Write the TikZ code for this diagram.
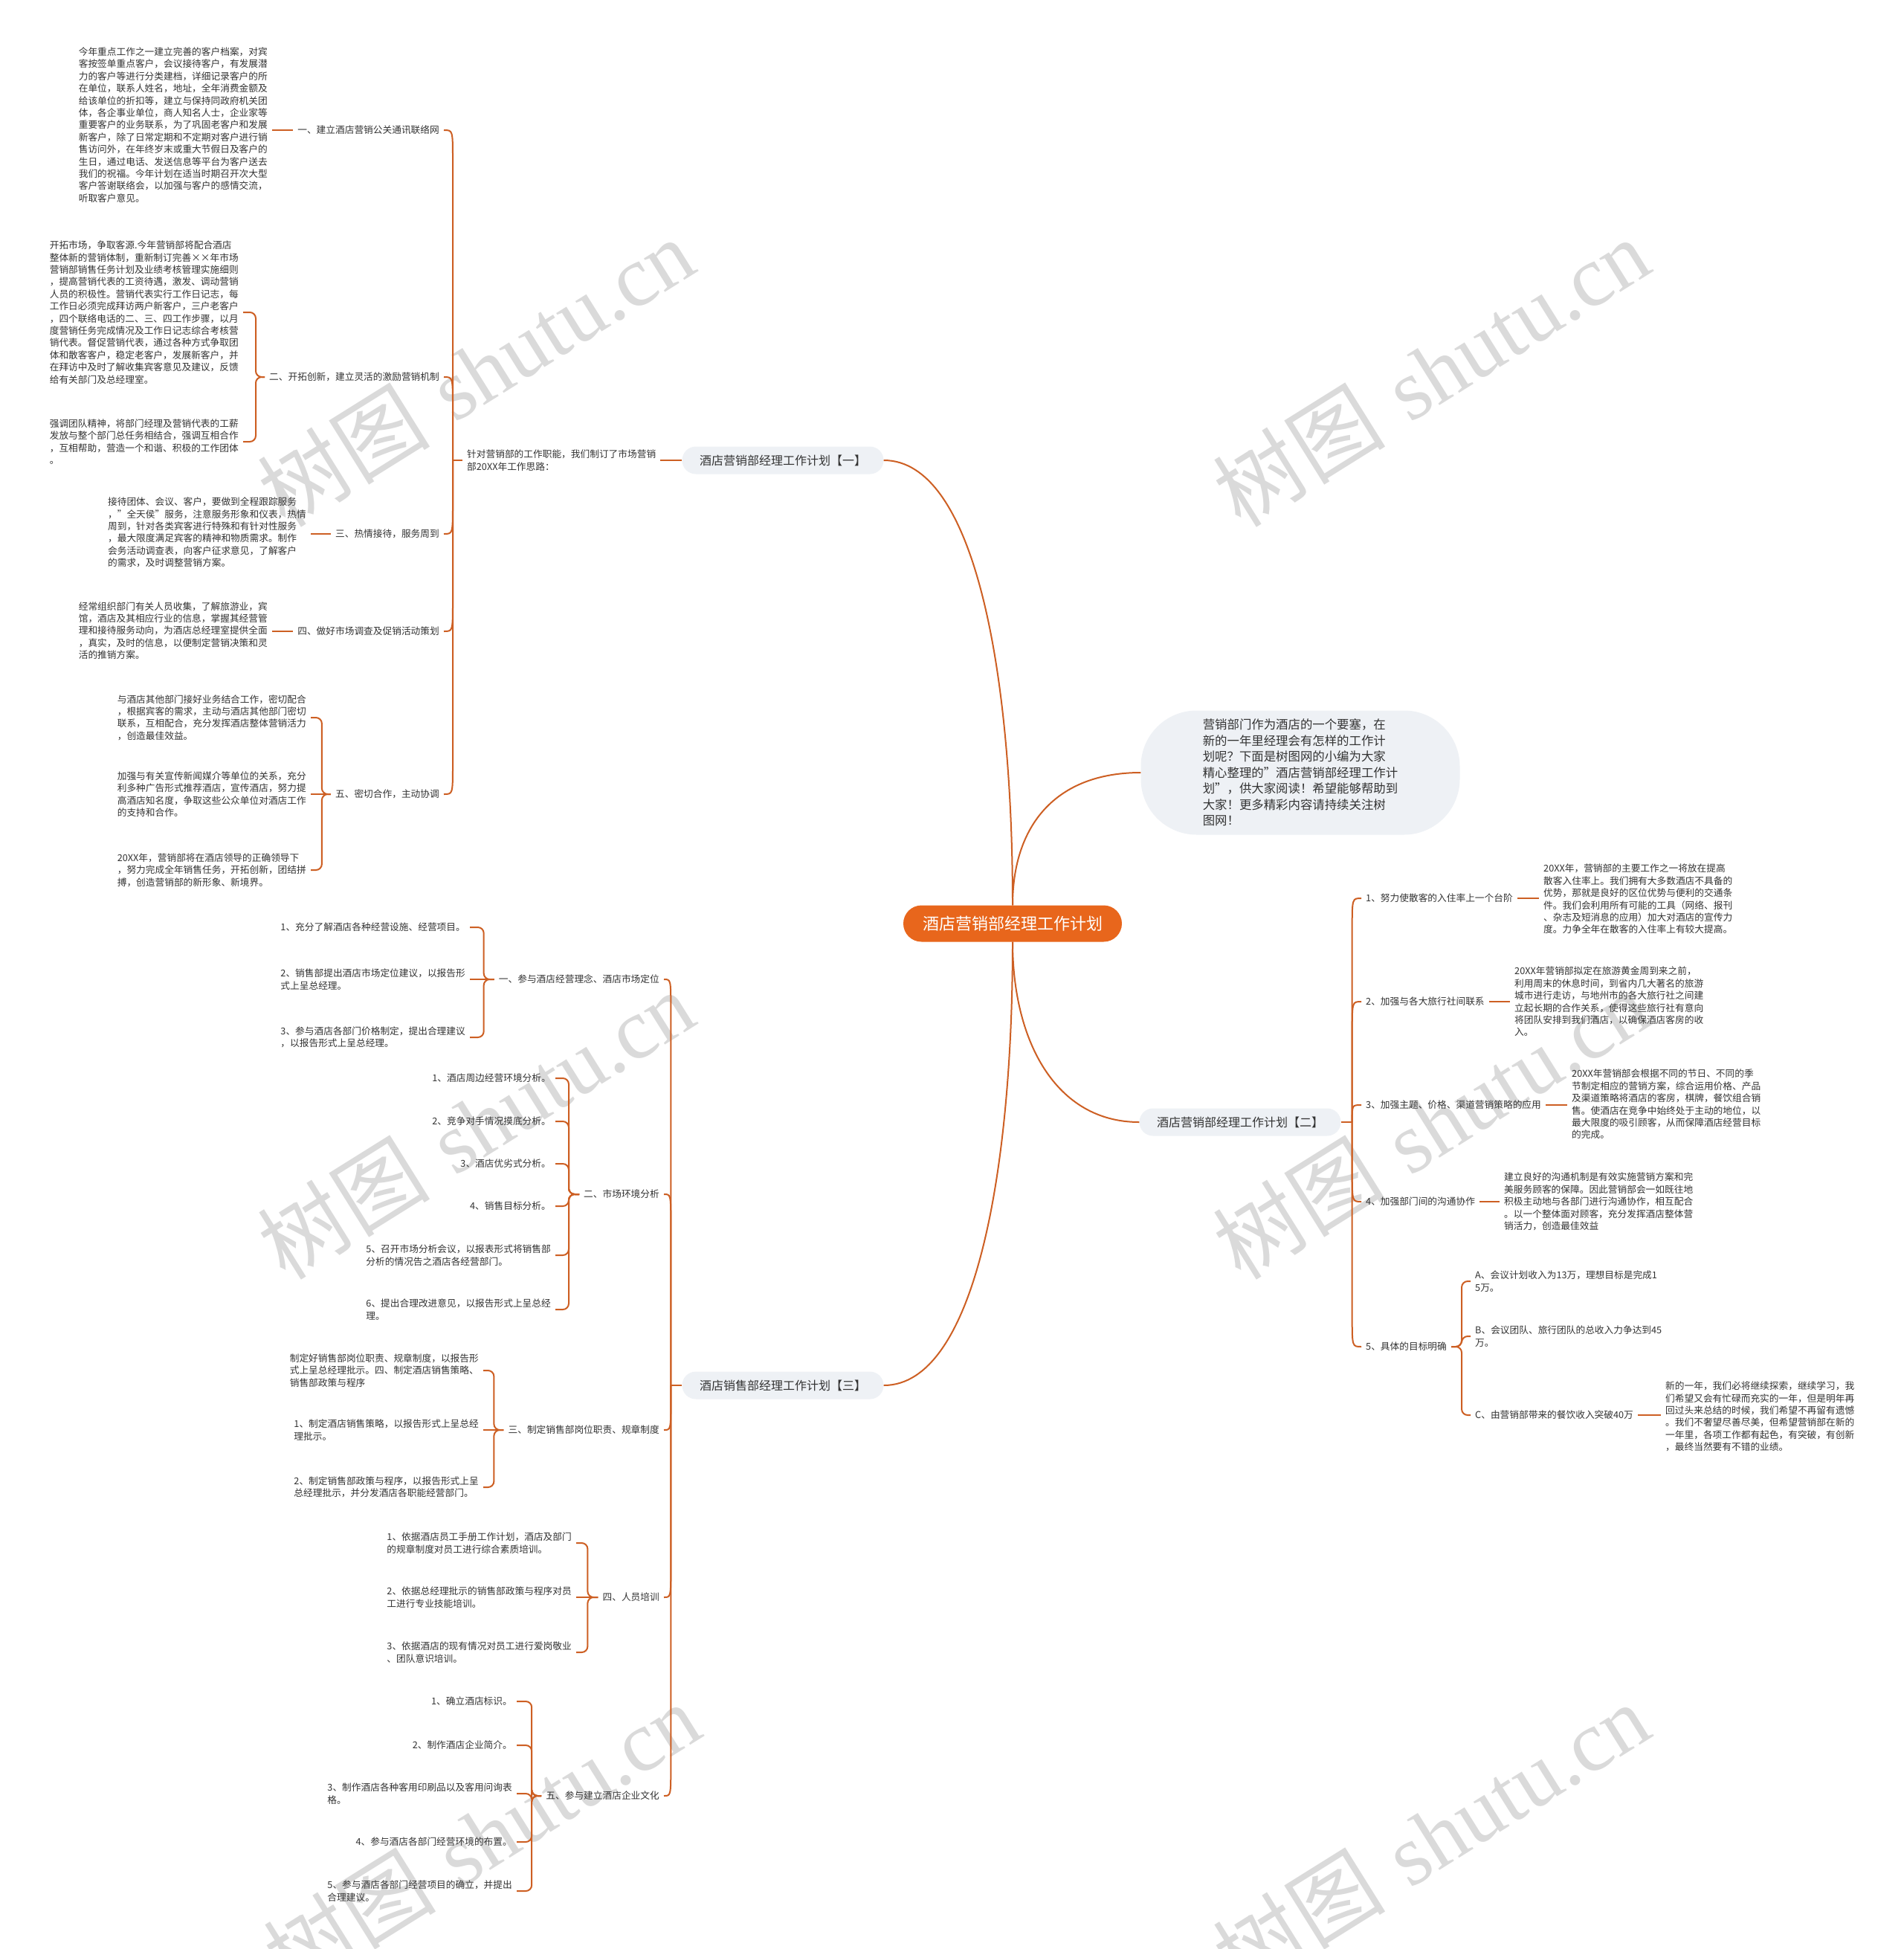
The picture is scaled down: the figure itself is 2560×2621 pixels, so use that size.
\documentclass[tikz,border=0pt]{standalone}
\usepackage{fontspec}
\setmainfont{Noto Sans CJK SC}
\newfontfamily\wmserif{Liberation Serif}
\usetikzlibrary{calc}
\definecolor{ln}{RGB}{205,95,35}
\definecolor{ctrfill}{RGB}{232,102,28}
\definecolor{boxfill}{RGB}{238,241,245}
\definecolor{txt}{RGB}{51,51,51}
\definecolor{wm}{RGB}{218,218,218}
\newcommand\hookL[3]{\draw[conn] (#1) -- ($(#1 |- #2.east)+(0,#3)$) .. controls (#1 |- #2.east) .. (#2.east);}
\newcommand\hookR[3]{\draw[conn] (#1) -- ($(#1 |- #2.west)+(0,#3)$) .. controls (#1 |- #2.west) .. (#2.west);}
\begin{document}
\begin{tikzpicture}[x=1pt,y=-1pt,
  conn/.style={draw=ln,line width=2pt},
  leaf/.style={align=left,inner xsep=6pt,inner ysep=2pt,text=txt,font=\fontsize{12.7}{16.4}\selectfont},
  lbl/.style={inner xsep=6pt,inner ysep=2pt,text=txt,font=\fontsize{12.7}{16.4}\selectfont},
  branch/.style={fill=boxfill,rounded corners=18.5pt,minimum width=271pt,minimum height=37pt,inner xsep=20pt,text=txt,font=\fontsize{16}{20}\selectfont},
  ctrbox/.style={fill=ctrfill,rounded corners=24.5pt,minimum width=294pt,minimum height=49pt,text=white,font=\fontsize{22}{26}\selectfont},
  introbox/.style={fill=boxfill,rounded corners=75pt,minimum width=429pt,minimum height=167pt,align=left,text=txt,font=\fontsize{16.4}{21.5}\selectfont},
  wmk/.style={rotate=32,text=wm,font=\fontsize{116}{116}\selectfont}
]
\fill[white] (0,0) rectangle (2560,2621);
\useasboundingbox (0,0) rectangle (2560,2621);

% watermarks
\foreach \wx/\wy in {640/500,1925/500,640/1512,1925/1512,648/2470,1925/2470}
  \node[wmk] at (\wx,\wy) {树图\hspace{0.3em}{\wmserif shutu.cn}};

% centre and branches
\node[ctrbox] (ctr) at (1362,1242) {酒店营销部经理工作计划};
\node[branch] (br1) at (1053,619) {酒店营销部经理工作计划【一】};
\node[branch] (br2) at (1668,1509) {酒店营销部经理工作计划【二】};
\node[branch] (br3) at (1053,1863) {酒店销售部经理工作计划【三】};
\node[introbox] (intro) at (1749,1039) {营销部门作为酒店的一个要塞，在\\新的一年里经理会有怎样的工作计\\划呢？下面是树图网的小编为大家\\精心整理的"酒店营销部经理工作计\\划"，供大家阅读！希望能够帮助到\\大家！更多精彩内容请持续关注树\\图网！};

\draw[conn] (ctr.north) .. controls (1362,900) and (1310,619) .. (br1.east);
\draw[conn] (ctr.north) .. controls (1362,1110) and (1420,1039) .. (intro.west);
\draw[conn] (ctr.south) .. controls (1362,1400) and (1420,1509) .. (br2.west);
\draw[conn] (ctr.south) .. controls (1362,1580) and (1310,1863) .. (br3.east);

% ---------- branch 1 ----------
\node[leaf,anchor=west] (n1) at (622,619) {针对营销部的工作职能，我们制订了市场营销\\部20XX年工作思路：};
\draw[conn] (br1.west) -- (n1.east);
\path (n1.west) ++(-13,0) coordinate (n1j);
\draw[conn] (n1.west) -- (n1j);

\node[lbl,anchor=east] (a1) at (597,175) {一、建立酒店营销公关通讯联络网};
\node[lbl,anchor=east] (a2) at (597,507) {二、开拓创新，建立灵活的激励营销机制};
\node[lbl,anchor=east] (a3) at (597,718) {三、热情接待，服务周到};
\node[lbl,anchor=east] (a4) at (597,849) {四、做好市场调查及促销活动策划};
\node[lbl,anchor=east] (a5) at (597,1068) {五、密切合作，主动协调};
\hookL{n1j}{a1}{40}
\hookL{n1j}{a2}{40}
\hookL{n1j}{a3}{-40}
\hookL{n1j}{a4}{-40}
\hookL{n1j}{a5}{-40}

\node[leaf,anchor=east] (a1l) at (366,168) {今年重点工作之一建立完善的客户档案，对宾\\客按签单重点客户，会议接待客户，有发展潜\\力的客户等进行分类建档，详细记录客户的所\\在单位，联系人姓名，地址，全年消费金额及\\给该单位的折扣等，建立与保持同政府机关团\\体，各企事业单位，商人知名人士，企业家等\\重要客户的业务联系，为了巩固老客户和发展\\新客户，除了日常定期和不定期对客户进行销\\售访问外，在年终岁末或重大节假日及客户的\\生日，通过电话、发送信息等平台为客户送去\\我们的祝福。今年计划在适当时期召开次大型\\客户答谢联络会，以加强与客户的感情交流，\\听取客户意见。};
\draw[conn] (a1.west) -- (a1.west -| a1l.east);

\node[leaf,anchor=east] (a2l1) at (327,420) {开拓市场，争取客源.今年营销部将配合酒店\\整体新的营销体制，重新制订完善××年市场\\营销部销售任务计划及业绩考核管理实施细则\\，提高营销代表的工资待遇，激发、调动营销\\人员的积极性。营销代表实行工作日记志，每\\工作日必须完成拜访两户新客户，三户老客户\\，四个联络电话的二、三、四工作步骤，以月\\度营销任务完成情况及工作日记志综合考核营\\销代表。督促营销代表，通过各种方式争取团\\体和散客客户，稳定老客户，发展新客户，并\\在拜访中及时了解收集宾客意见及建议，反馈\\给有关部门及总经理室。};
\node[leaf,anchor=east] (a2l2) at (327,594) {强调团队精神，将部门经理及营销代表的工薪\\发放与整个部门总任务相结合，强调互相合作\\，互相帮助，营造一个和谐、积极的工作团体\\。};
\draw[conn,rounded corners=8pt] (a2.west) -- ++(-12,0) |- (a2l1.east);
\draw[conn,rounded corners=8pt] (a2.west) -- ++(-12,0) |- (a2l2.east);

\node[leaf,anchor=east] (a3l) at (418,716) {接待团体、会议、客户，要做到全程跟踪服务\\，"全天侯"服务，注意服务形象和仪表，热情\\周到，针对各类宾客进行特殊和有针对性服务\\，最大限度满足宾客的精神和物质需求。制作\\会务活动调查表，向客户征求意见，了解客户\\的需求，及时调整营销方案。};
\draw[conn] (a3.west) -- (a3.west -| a3l.east);

\node[leaf,anchor=east] (a4l) at (366,848) {经常组织部门有关人员收集，了解旅游业，宾\\馆，酒店及其相应行业的信息，掌握其经营管\\理和接待服务动向，为酒店总经理室提供全面\\，真实，及时的信息，以便制定营销决策和灵\\活的推销方案。};
\draw[conn] (a4.west) -- (a4.west -| a4l.east);

\node[leaf,anchor=east] (a5l1) at (418,965) {与酒店其他部门接好业务结合工作，密切配合\\，根据宾客的需求，主动与酒店其他部门密切\\联系，互相配合，充分发挥酒店整体营销活力\\，创造最佳效益。};
\node[leaf,anchor=east] (a5l2) at (418,1068) {加强与有关宣传新闻媒介等单位的关系，充分\\利多种广告形式推荐酒店，宣传酒店，努力提\\高酒店知名度，争取这些公众单位对酒店工作\\的支持和合作。};
\node[leaf,anchor=east] (a5l3) at (418,1170) {20XX年，营销部将在酒店领导的正确领导下\\，努力完成全年销售任务，开拓创新，团结拼\\搏，创造营销部的新形象、新境界。};
\draw[conn,rounded corners=8pt] (a5.west) -- ++(-12,0) |- (a5l1.east);
\draw[conn] (a5.west) -- (a5l2.east);
\draw[conn,rounded corners=8pt] (a5.west) -- ++(-12,0) |- (a5l3.east);

% ---------- branch 3 ----------
\path (br3.west) ++(-15,0) coordinate (br3j);
\draw[conn] (br3.west) -- (br3j);
\node[lbl,anchor=east] (b1) at (893,1317) {一、参与酒店经营理念、酒店市场定位};
\node[lbl,anchor=east] (b2) at (893,1606) {二、市场环境分析};
\node[lbl,anchor=east] (b3) at (893,1923) {三、制定销售部岗位职责、规章制度};
\node[lbl,anchor=east] (b4) at (893,2148) {四、人员培训};
\node[lbl,anchor=east] (b5) at (893,2415) {五、参与建立酒店企业文化};
\hookL{br3j}{b1}{40}
\hookL{br3j}{b2}{40}
\hookL{br3j}{b3}{-40}
\hookL{br3j}{b4}{-40}
\hookL{br3j}{b5}{-40}

\node[leaf,anchor=east] (b11) at (632,1247) {1、充分了解酒店各种经营设施、经营项目。};
\node[leaf,anchor=east] (b12) at (632,1317) {2、销售部提出酒店市场定位建议，以报告形\\式上呈总经理。};
\node[leaf,anchor=east] (b13) at (632,1395) {3、参与酒店各部门价格制定，提出合理建议\\，以报告形式上呈总经理。};
\draw[conn,rounded corners=8pt] (b1.west) -- ++(-14,0) |- (b11.east);
\draw[conn] (b1.west) -- (b12.east);
\draw[conn,rounded corners=8pt] (b1.west) -- ++(-14,0) |- (b13.east);

\node[leaf,anchor=east] (b21) at (747,1450) {1、酒店周边经营环境分析。};
\node[leaf,anchor=east] (b22) at (747,1508) {2、竞争对手情况摸底分析。};
\node[leaf,anchor=east] (b23) at (747,1565) {3、酒店优劣式分析。};
\node[leaf,anchor=east] (b24) at (747,1622) {4、销售目标分析。};
\node[leaf,anchor=east] (b25) at (747,1688) {5、召开市场分析会议，以报表形式将销售部\\分析的情况告之酒店各经营部门。};
\node[leaf,anchor=east] (b26) at (747,1761) {6、提出合理改进意见，以报告形式上呈总经\\理。};
\foreach \l in {b21,b22,b23,b24,b25,b26}
  \draw[conn,rounded corners=8pt] (b2.west) -- ++(-14,0) |- (\l.east);

\node[leaf,anchor=east] (b31) at (650,1843) {制定好销售部岗位职责、规章制度，以报告形\\式上呈总经理批示。四、制定酒店销售策略、\\销售部政策与程序};
\node[leaf,anchor=east] (b32) at (650,1923) {1、制定酒店销售策略，以报告形式上呈总经\\理批示。};
\node[leaf,anchor=east] (b33) at (650,2000) {2、制定销售部政策与程序，以报告形式上呈\\总经理批示，并分发酒店各职能经营部门。};
\draw[conn,rounded corners=8pt] (b3.west) -- ++(-13,0) |- (b31.east);
\draw[conn] (b3.west) -- (b32.east);
\draw[conn,rounded corners=8pt] (b3.west) -- ++(-13,0) |- (b33.east);

\node[leaf,anchor=east] (b41) at (775,2075) {1、依据酒店员工手册工作计划，酒店及部门\\的规章制度对员工进行综合素质培训。};
\node[leaf,anchor=east] (b42) at (775,2148) {2、依据总经理批示的销售部政策与程序对员\\工进行专业技能培训。};
\node[leaf,anchor=east] (b43) at (775,2222) {3、依据酒店的现有情况对员工进行爱岗敬业\\、团队意识培训。};
\draw[conn,rounded corners=8pt] (b4.west) -- ++(-14,0) |- (b41.east);
\draw[conn] (b4.west) -- (b42.east);
\draw[conn,rounded corners=8pt] (b4.west) -- ++(-14,0) |- (b43.east);

\node[leaf,anchor=east] (b51) at (695,2288) {1、确立酒店标识。};
\node[leaf,anchor=east] (b52) at (695,2347) {2、制作酒店企业简介。};
\node[leaf,anchor=east] (b53) at (695,2412) {3、制作酒店各种客用印刷品以及客用问询表\\格。};
\node[leaf,anchor=east] (b54) at (695,2477) {4、参与酒店各部门经营环境的布置。};
\node[leaf,anchor=east] (b55) at (695,2543) {5、参与酒店各部门经营项目的确立，并提出\\合理建议。};
\foreach \l in {b51,b52,b53,b54,b55}
  \draw[conn,rounded corners=8pt] (b5.west) -- ++(-13,0) |- (\l.east);

% ---------- branch 2 ----------
\path (br2.east) ++(15,0) coordinate (br2j);
\draw[conn] (br2.east) -- (br2j);
\node[lbl,anchor=west] (c1) at (1831,1208) {1、努力使散客的入住率上一个台阶};
\node[lbl,anchor=west] (c2) at (1831,1347) {2、加强与各大旅行社间联系};
\node[lbl,anchor=west] (c3) at (1831,1486) {3、加强主题、价格、渠道营销策略的应用};
\node[lbl,anchor=west] (c4) at (1831,1616) {4、加强部门间的沟通协作};
\node[lbl,anchor=west] (c5) at (1831,1811) {5、具体的目标明确};
\hookR{br2j}{c1}{40}
\hookR{br2j}{c2}{40}
\hookR{br2j}{c3}{20}
\hookR{br2j}{c4}{-40}
\hookR{br2j}{c5}{-40}

\node[leaf,anchor=west] (c1l) at (2070,1209) {20XX年，营销部的主要工作之一将放在提高\\散客入住率上。我们拥有大多数酒店不具备的\\优势，那就是良好的区位优势与便利的交通条\\件。我们会利用所有可能的工具（网络、报刊\\、杂志及短消息的应用）加大对酒店的宣传力\\度。力争全年在散客的入住率上有较大提高。};
\draw[conn] (c1.east) -- (c1.east -| c1l.west);
\node[leaf,anchor=west] (c2l) at (2031,1347) {20XX年营销部拟定在旅游黄金周到来之前，\\利用周末的休息时间，到省内几大著名的旅游\\城市进行走访，与地州市的各大旅行社之间建\\立起长期的合作关系，使得这些旅行社有意向\\将团队安排到我们酒店，以确保酒店客房的收\\入。};
\draw[conn] (c2.east) -- (c2.east -| c2l.west);
\node[leaf,anchor=west] (c3l) at (2108,1485) {20XX年营销部会根据不同的节日、不同的季\\节制定相应的营销方案，综合运用价格、产品\\及渠道策略将酒店的客房，棋牌，餐饮组合销\\售。使酒店在竞争中始终处于主动的地位，以\\最大限度的吸引顾客，从而保障酒店经营目标\\的完成。};
\draw[conn] (c3.east) -- (c3.east -| c3l.west);
\node[leaf,anchor=west] (c4l) at (2017,1616) {建立良好的沟通机制是有效实施营销方案和完\\美服务顾客的保障。因此营销部会一如既往地\\积极主动地与各部门进行沟通协作，相互配合\\。以一个整体面对顾客，充分发挥酒店整体营\\销活力，创造最佳效益};
\draw[conn] (c4.east) -- (c4.east -| c4l.west);

\node[leaf,anchor=west] (c51) at (1978,1723) {A、会议计划收入为13万，理想目标是完成1\\5万。};
\node[leaf,anchor=west] (c52) at (1978,1797) {B、会议团队、旅行团队的总收入力争达到45\\万。};
\node[leaf,anchor=west] (c53) at (1978,1903) {C、由营销部带来的餐饮收入突破40万};
\foreach \l in {c51,c52,c53}
  \draw[conn,rounded corners=8pt] (c5.east) -- ++(14,0) |- (\l.west);
\node[leaf,anchor=west] (c53l) at (2234,1905) {新的一年，我们必将继续探索，继续学习，我\\们希望又会有忙碌而充实的一年，但是明年再\\回过头来总结的时候，我们希望不再留有遗憾\\。我们不奢望尽善尽美，但希望营销部在新的\\一年里，各项工作都有起色，有突破，有创新\\，最终当然要有不错的业绩。};
\draw[conn] (c53.east) -- (c53.east -| c53l.west);
\end{tikzpicture}
\end{document}
